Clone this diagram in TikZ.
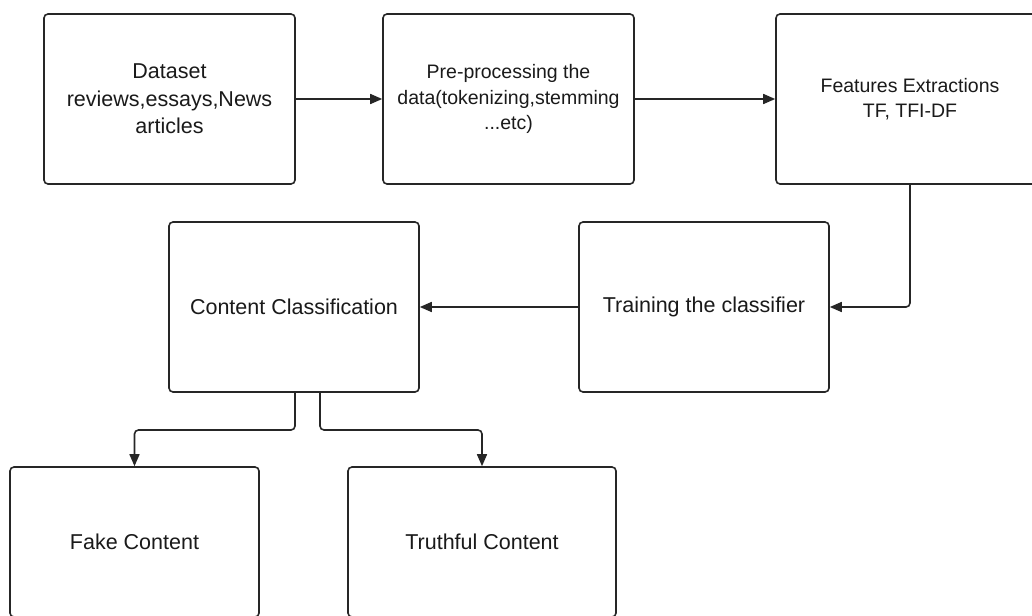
\documentclass[tikz,border=0pt]{standalone}
\usepackage{fontspec}
\setmainfont{Liberation Sans}
\usetikzlibrary{arrows.meta,calc}
\definecolor{ln}{HTML}{262626}
\definecolor{tx}{HTML}{1A1A1A}
\newcommand\bigtxt{\fontsize{21.5}{27.5}\selectfont}
\newcommand\smalltxt{\fontsize{19.5}{25.5}\selectfont}
\begin{document}
\begin{tikzpicture}[x=1pt,y=-1pt,
  box/.style={draw=ln, line width=1.6pt, rounded corners=4pt, align=center,
    inner sep=0pt, font=\bigtxt, text=tx, minimum height=170pt},
  conn/.style={draw=ln, line width=1.6pt, rounded corners=4pt,
    -{Triangle[length=12pt,width=10pt]}}]
\useasboundingbox (0,0) rectangle (1032,615);
\clip (0,0) rectangle (1032,615);
\fill[white] (0,0) rectangle (1032,615);

\node[box, minimum width=251pt] (data) at (169.5,99)
  {Dataset\\reviews,essays,News\\articles};
\node[box, minimum width=251pt, font=\smalltxt] (pre) at (508.5,99)
  {Pre-processing the\\data(tokenizing,stemming\\...etc)};
\node[box, minimum width=268pt, font=\smalltxt] (feat) at (910,99)
  {Features Extractions\\TF, TFI-DF};
\node[box, minimum width=250pt] (train) at (704,307) {Training the classifier};
\node[box, minimum width=250pt] (cls) at (294,307) {Content Classification};
\node[box, minimum width=249pt, minimum height=150pt] (fake) at (134.5,542) {Fake Content};
\node[box, minimum width=268pt, minimum height=150pt] (truth) at (482,542) {Truthful Content};

\coordinate (split) at (0,430);
\coordinate (c1) at ([xshift=1pt]cls.south);
\coordinate (c2) at ([xshift=26pt]cls.south);

\draw[conn] (data.east) -- (pre.west);
\draw[conn] (pre.east) -- (feat.west);
\draw[conn] (feat.south) |- (train.east);
\draw[conn] (train.west) -- (cls.east);
\draw[conn] (c1) -- (c1 |- split) -| (fake.north);
\draw[conn] (c2) -- (c2 |- split) -| (truth.north);
\end{tikzpicture}
\end{document}
